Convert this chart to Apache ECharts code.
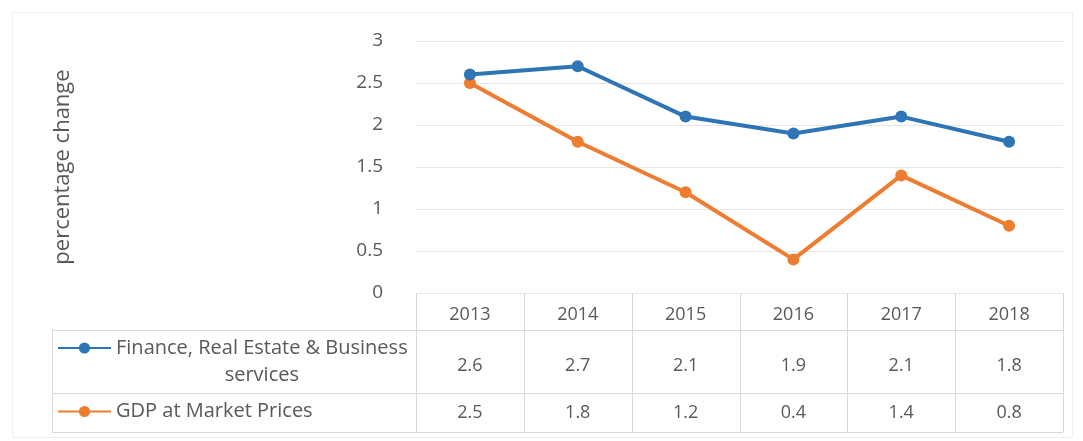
<!DOCTYPE html>
<html>
<head>
<meta charset="utf-8">
<script src="https://cdn.jsdelivr.net/npm/echarts@6/dist/echarts.min.js"></script>
<style>
html,body{margin:0;padding:0;background:#fff;}
#main{width:1083px;height:441px;}
</style>
</head>
<body>
<div id="main"></div>
<script>
const categories = ['2013', '2014', '2015', '2016', '2017', '2018'];
const financeName = 'Finance, Real Estate & Business services';
const gdpName = 'GDP at Market Prices';
const financeValues = [2.6, 2.7, 2.1, 1.9, 2.1, 1.8];
const gdpValues = [2.5, 1.8, 1.2, 0.4, 1.4, 0.8];
const yTicks = [0, 0.5, 1, 1.5, 2, 2.5, 3];

const FONT = 'Open Sans';
const TXT = '#595959';
const BLUE = '#2e75b6';
const ORANGE = '#ed7d31';
const TABLE_LINE = '#d9d9d9';

const chart = echarts.init(document.getElementById('main'), null, {renderer: 'canvas'});

const option = {
  backgroundColor: '#ffffff',
  animation: false,
  grid: {left: 416, right: 20, top: 41, bottom: 148},
  legend: [
    {
      data: [financeName],
      orient: 'vertical',
      left: 57, top: 338, padding: 0,
      itemWidth: 53, itemHeight: 14,
      formatter: function () { return '{a|Finance, Real Estate & Business}\n{b|services}'; },
      textStyle: {
        fontFamily: FONT, fontSize: 20, color: TXT, padding: [27, 0, 0, 0],
        rich: {
          a: {fontFamily: FONT, fontSize: 20, color: TXT, lineHeight: 27},
          b: {fontFamily: FONT, fontSize: 20, color: TXT, lineHeight: 27, align: 'center'}
        }
      }
    },
    {
      data: [gdpName],
      orient: 'vertical',
      left: 57, top: 398, padding: 0,
      itemWidth: 53, itemHeight: 14,
      textStyle: {fontFamily: FONT, fontSize: 20, color: TXT, lineHeight: 27}
    }
  ],
  xAxis: {
    type: 'category',
    data: categories,
    boundaryGap: true,
    axisLine: {show: false},
    axisTick: {show: false},
    axisLabel: {
      margin: 2,
      interval: 0,
      formatter: function (val, idx) {
        return '{y|' + val + '}\n{a|' + financeValues[idx] + '}\n{b|' + gdpValues[idx] + '}';
      },
      rich: {
        y: {fontFamily: FONT, fontSize: 18, color: TXT, lineHeight: 40},
        a: {fontFamily: FONT, fontSize: 18, color: TXT, lineHeight: 62},
        b: {fontFamily: FONT, fontSize: 18, color: TXT, lineHeight: 32}
      }
    }
  },
  yAxis: {
    type: 'value',
    min: yTicks[0], max: yTicks[yTicks.length - 1], interval: 0.5,
    name: 'percentage change',
    nameLocation: 'middle',
    nameRotate: 90,
    nameGap: 342,
    nameTextStyle: {fontFamily: FONT, fontSize: 22, color: TXT},
    axisLine: {show: false},
    axisTick: {show: false},
    axisLabel: {margin: 33, fontFamily: FONT, fontSize: 19, color: TXT},
    splitLine: {lineStyle: {color: '#e6e6e6', width: 1}}
  },
  series: [
    {
      name: financeName, type: 'line', data: financeValues,
      symbol: 'circle', symbolSize: 12,
      lineStyle: {color: BLUE, width: 4},
      itemStyle: {color: BLUE},
      z: 3
    },
    {
      name: gdpName, type: 'line', data: gdpValues,
      symbol: 'circle', symbolSize: 12,
      lineStyle: {color: ORANGE, width: 4},
      itemStyle: {color: ORANGE},
      z: 2
    }
  ]
};
chart.setOption(option);

// Data-table grid lines derived from the category axis scale
function drawTable() {
  const centers = categories.map((c, i) => chart.convertToPixel({xAxisIndex: 0}, i));
  const band = centers.length > 1 ? centers[1] - centers[0] : 100;
  const bounds = [centers[0] - band / 2];
  centers.forEach(c => bounds.push(c + band / 2));
  const yZero = chart.convertToPixel({yAxisIndex: 0}, 0);
  const rowTop = 330, rowMid = 393, rowBot = 432, tableLeft = 52;
  const right = bounds[bounds.length - 1];
  const els = [];
  const line = (x1, y1, x2, y2) => els.push({
    type: 'line', silent: true,
    shape: {x1: x1, y1: y1, x2: x2, y2: y2},
    style: {stroke: TABLE_LINE, lineWidth: 1}
  });
  bounds.forEach(b => line(Math.round(b) + 0.5, yZero, Math.round(b) + 0.5, rowBot));
  line(tableLeft + 0.5, rowTop, tableLeft + 0.5, rowBot);
  [rowTop, rowMid, rowBot].forEach(y => line(tableLeft, y + 0.5, right, y + 0.5));
  els.push({
    type: 'rect', silent: true, z: -1,
    shape: {x: 12.5, y: 12.5, width: 1060, height: 425},
    style: {fill: 'none', stroke: '#efefef', lineWidth: 1}
  });
  chart.setOption({graphic: els});
}
drawTable();
</script>
</body>
</html>
